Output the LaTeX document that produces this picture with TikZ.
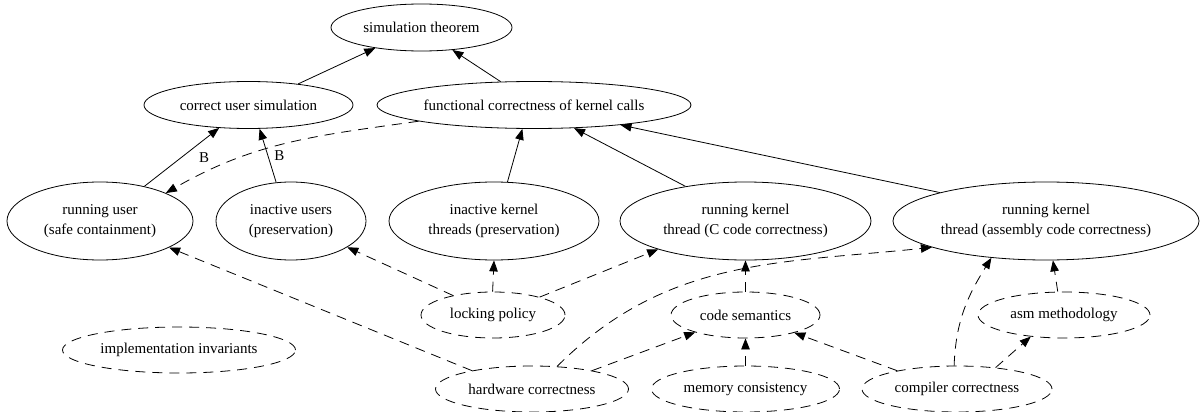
\documentclass[tikz,border=0pt]{standalone}
\usepackage{fontspec}
\setmainfont{Liberation Serif}
\usetikzlibrary{shapes.geometric,arrows.meta}
\tikzset{
  box/.style 2 args={ellipse, draw, line width=0.8pt, inner sep=0pt, minimum width=#1, minimum height=#2},
  dbox/.style 2 args={box={#1}{#2}, dash pattern=on 10pt off 7pt},
  txt/.style={font=\fontsize{15}{20}\selectfont, align=center, inner sep=0pt},
  edge/.style={line width=0.8pt, -{Triangle[length=11pt,width=8.5pt]}},
  dedge/.style={edge, dash pattern=on 10pt off 7pt},
  blabel/.style={font=\fontsize{15}{20}\selectfont, inner sep=0pt, anchor=west}
}
\begin{document}
\begin{tikzpicture}[x=1pt,y=-1pt]
\useasboundingbox (0,0) rectangle (1203,412);
% nodes
\node[box={181pt}{47pt}, label={[txt]center:simulation theorem}] (st) at (421.5,27.5) {};
\node[box={209pt}{47pt}, label={[txt]center:correct user simulation}] (cus) at (248.5,105) {};
\node[box={314pt}{47pt}, label={[txt]center:functional correctness of kernel calls}] (fck) at (534,105) {};
\node[box={186pt}{78pt}, label={[txt]center:running user\\(safe containment)}] (ru) at (100,221) {};
\node[box={150pt}{78pt}, label={[txt]center:inactive users\\(preservation)}] (iu) at (291,221) {};
\node[box={210pt}{78pt}, label={[txt]center:inactive kernel\\threads (preservation)}] (ik) at (494,221) {};
\node[box={251pt}{78pt}, label={[txt]center:running kernel\\thread (C code correctness)}] (rkc) at (745.5,221) {};
\node[box={306pt}{78pt}, label={[txt]center:running kernel\\thread (assembly code correctness)}] (rka) at (1046,221) {};
\node[dbox={144pt}{46pt}, label={[txt]center:locking policy}] (lp) at (493,315) {};
\node[dbox={233pt}{46pt}, label={[txt]center:implementation invariants}] (ii) at (179,350) {};
\node[dbox={193pt}{46pt}, label={[txt]center:hardware correctness}] (hc) at (532,389) {};
\node[dbox={149pt}{46pt}, label={[txt]center:code semantics}] (cs) at (745.5,315) {};
\node[dbox={172pt}{46pt}, label={[txt]center:asm methodology}] (am) at (1064,315) {};
\node[dbox={188pt}{46pt}, label={[txt]center:memory consistency}] (mc) at (745.5,389) {};
\node[dbox={190pt}{46pt}, label={[txt]center:compiler correctness}] (cc) at (957,389) {};
% solid edges
\draw[edge] (cus.23.7) -- (st.204.7);
\draw[edge] (fck.145.4) -- (st.324.5);
\draw[edge] (ru.38.4) -- node[blabel, pos=0.5, xshift=17pt] {B} (cus.218.9);
\draw[edge] (iu.111.7) -- node[blabel, pos=0.5, xshift=6pt] {B} (cus.295.6);
\draw[edge] (ik.71.6) -- (fck.244.2);
\draw[edge] (rkc.150.4) -- (fck.330.3);
\draw[edge] (rka.165.5) -- (fck.347.6);
% dashed edges
\draw[dedge] (fck.188.3) to[out=188, in=30] (ru.23.5);
\draw[dedge] (lp.154.2) -- (iu.335);
\draw[dedge] (lp.91) -- (ik.270);
\draw[dedge] (lp.21.4) -- (rkc.198.1);
\draw[dedge] (hc.163.5) -- (ru.339.4);
\draw[dedge] (hc.42.1) to[out=45, in=186] (rka.193.2);
\draw[dedge] (hc.17.3) -- (cs.199.9);
\draw[dedge] (mc.90) -- (cs.270);
\draw[dedge] (cc.163.8) -- (cs.340.6);
\draw[dedge] (cs.90) -- (rkc.270);
\draw[dedge] (cc.97.4) to[out=88, in=238] (rka.214.5);
\draw[dedge] (cc.29.9) -- (am.213.7);
\draw[dedge] (am.105.6) -- (rka.280.9);
\end{tikzpicture}
\end{document}
